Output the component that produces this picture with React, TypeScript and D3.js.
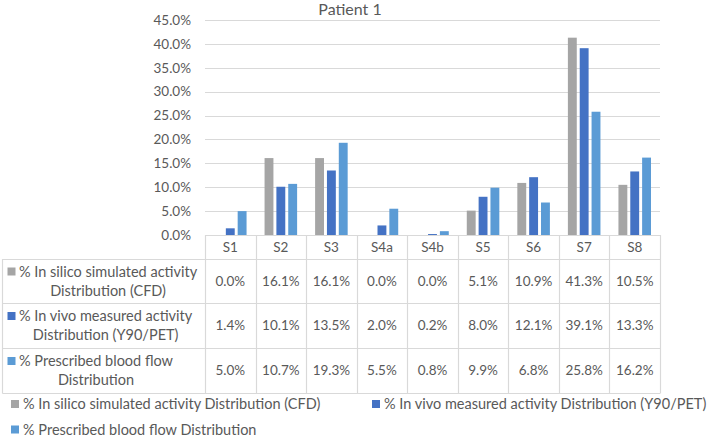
import React, { useEffect, useRef } from "react";
import * as d3 from "d3";

const categories = ["S1", "S2", "S3", "S4a", "S4b", "S5", "S6", "S7", "S8"];
const inSilico = [0.0, 16.1, 16.1, 0.0, 0.0, 5.1, 10.9, 41.3, 10.5];
const inVivo = [1.4, 10.1, 13.5, 2.0, 0.2, 8.0, 12.1, 39.1, 13.3];
const prescribed = [5.0, 10.7, 19.3, 5.5, 0.8, 9.9, 6.8, 25.8, 16.2];
const seriesNames = [
  "% In silico simulated activity Distribution (CFD)",
  "% In vivo measured activity Distribution (Y90/PET)",
  "% Prescribed blood flow Distribution",
];
const rowLines = [
  ["% In silico simulated activity", "Distribution (CFD)"],
  ["% In vivo measured activity", "Distribution (Y90/PET)"],
  ["% Prescribed blood flow", "Distribution"],
];
const yTicks = [0, 5, 10, 15, 20, 25, 30, 35, 40, 45];
const title = "Patient 1";

const colors = ["#A5A5A5", "#4472C4", "#5B9BD5"];
const FONT = "Lato, 'Open Sans', sans-serif";
const TXT = "#595959";
const GRID = "#D9D9D9";

export default function App() {
  const ref = useRef<SVGSVGElement>(null);
  useEffect(() => {
    const svg = d3.select(ref.current);
    svg.selectAll("*").remove();
    const data = [inSilico, inVivo, prescribed];
    const left = 205, right = 660, top = 20, bottom = 235;
    const x = d3.scaleBand().domain(categories).range([left, right]);
    const bw = x.bandwidth();
    const x1 = d3.scaleBand().domain(["0", "1", "2"]).range([bw * 0.178, bw * 0.822]).paddingInner(0.25);
    const y = d3.scaleLinear().domain([0, 45]).range([bottom, top]);

    // title
    svg.append("text").attr("x", 350).attr("y", 14.5).attr("text-anchor", "middle")
      .attr("font-size", 16).attr("fill", TXT).text(title);

    // grid
    svg.append("g").selectAll("line").data(yTicks.filter((d) => d > 0)).join("line")
      .attr("x1", left).attr("x2", right)
      .attr("y1", (d) => Math.round(y(d)) + 0.5).attr("y2", (d) => Math.round(y(d)) + 0.5)
      .attr("stroke", GRID).attr("stroke-width", 1);
    svg.append("g").selectAll("text").data(yTicks).join("text")
      .attr("x", 191).attr("y", (d) => y(d)).attr("dy", "0.35em").attr("text-anchor", "end")
      .attr("font-size", 13.5).attr("fill", TXT).text((d) => d3.format(".1f")(d) + "%");

    // bars
    data.forEach((vals, si) => {
      svg.append("g").selectAll("rect").data(vals).join("rect")
        .attr("x", (_, i) => (x(categories[i]) as number) + (x1(String(si)) as number))
        .attr("width", x1.bandwidth())
        .attr("y", (d) => y(d)).attr("height", (d) => y(0) - y(d))
        .attr("fill", colors[si]);
    });

    // table
    const tLeft = 2.5;
    const rows = [259, 303, 348, 393];
    const g = svg.append("g").attr("stroke", GRID).attr("stroke-width", 1.2);
    g.append("line").attr("x1", left).attr("x2", right).attr("y1", bottom + 0.5).attr("y2", bottom + 0.5);
    rows.forEach((ry) => g.append("line").attr("x1", tLeft).attr("x2", right).attr("y1", ry + 0.5).attr("y2", ry + 0.5));
    [...categories.map((c) => x(c) as number), right].forEach((vx) =>
      g.append("line").attr("x1", Math.round(vx) + 0.5).attr("x2", Math.round(vx) + 0.5).attr("y1", bottom).attr("y2", rows[3] + 0.5));
    g.append("line").attr("x1", tLeft).attr("x2", tLeft).attr("y1", rows[0]).attr("y2", rows[3] + 0.5);

    svg.append("g").selectAll("text").data(categories).join("text")
      .attr("x", (d) => (x(d) as number) + bw / 2).attr("y", 247).attr("dy", "0.35em")
      .attr("text-anchor", "middle").attr("font-size", 13.5).attr("fill", TXT).text((d) => d);

    data.forEach((vals, si) => {
      const mid = (rows[si] + rows[si + 1]) / 2;
      svg.append("g").selectAll("text").data(vals).join("text")
        .attr("x", (_, i) => (x(categories[i]) as number) + bw / 2).attr("y", mid).attr("dy", "0.35em")
        .attr("text-anchor", "middle").attr("font-size", 13.5).attr("fill", TXT)
        .text((d) => d3.format(".1f")(d) + "%");
      const t1 = svg.append("text").attr("x", 19).attr("y", mid - 9.5).attr("dy", "0.35em")
        .attr("font-size", 14.5).attr("fill", TXT).text(rowLines[si][0]);
      const w1 = (t1.node() as SVGTextElement).getComputedTextLength();
      svg.append("text").attr("x", 19 + w1 / 2).attr("y", mid + 9.5).attr("dy", "0.35em")
        .attr("text-anchor", "middle").attr("font-size", 14.5).attr("fill", TXT).text(rowLines[si][1]);
      svg.append("rect").attr("x", 7.5).attr("y", mid - 9.5 - 4).attr("width", 8).attr("height", 8).attr("fill", colors[si]);
    });

    // legend
    const leg = [
      { x: 11, y: 404 },
      { x: 372, y: 404 },
      { x: 11, y: 429.5 },
    ];
    leg.forEach((p, i) => {
      svg.append("rect").attr("x", p.x).attr("y", p.y - 4).attr("width", 8).attr("height", 8).attr("fill", colors[i]);
      svg.append("text").attr("x", p.x + 12).attr("y", p.y).attr("dy", "0.35em")
        .attr("font-size", 14.5).attr("fill", TXT).text(seriesNames[i]);
    });
  }, []);
  return (
    <svg ref={ref} width={708} height={437}
      style={{ position: "absolute", left: 0, top: 0, fontFamily: FONT, background: "#fff" }} />
  );
}
